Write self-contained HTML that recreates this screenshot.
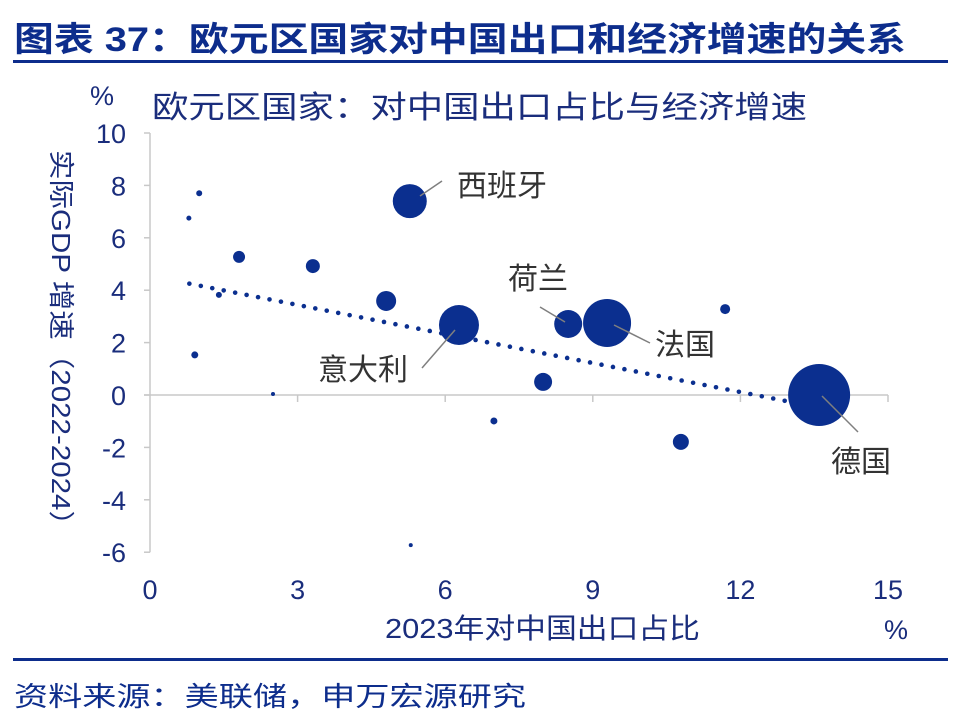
<!DOCTYPE html>
<html><head><meta charset="utf-8"><style>
body{margin:0;background:#fff;width:960px;height:724px;overflow:hidden;font-family:"Liberation Sans","Noto Sans CJK SC",sans-serif}
</style></head><body>
<svg width="960" height="724" style="position:absolute;left:0;top:0" font-family="Liberation Sans, Noto Sans CJK SC, sans-serif">
<text x="14" y="51" font-size="34" font-weight="bold" fill="#0d2d8c" textLength="892" lengthAdjust="spacingAndGlyphs">图表 37：欧元区国家对中国出口和经济增速的关系</text>
<rect x="13" y="60" width="935" height="3" fill="#0d2d8c"/>
<text x="90" y="105" font-size="27" fill="#1a2d7c">%</text>
<text x="152" y="118" font-size="31" fill="#1a2d7c" textLength="655" lengthAdjust="spacingAndGlyphs">欧元区国家：对中国出口占比与经济增速</text>
<text transform="translate(52,150) rotate(90)" font-size="26" fill="#1a2d7c" textLength="390" lengthAdjust="spacingAndGlyphs">实际GDP 增速（2022-2024）</text>
<text x="385" y="638" font-size="28" fill="#1a2d7c" textLength="315" lengthAdjust="spacingAndGlyphs">2023年对中国出口占比</text>
<text x="884" y="639" font-size="27" fill="#1a2d7c">%</text>
<g id="plot"></g>
<rect x="13" y="658" width="935" height="3" fill="#0d2d8c"/>
<text x="14" y="706" font-size="27" fill="#0d2d8c" textLength="512" lengthAdjust="spacingAndGlyphs">资料来源：美联储，申万宏源研究</text>
</svg>
<script>
const xTicks=[0,3,6,9,12,15];
const yTicks=[10,8,6,4,2,0,-2,-4,-6];
const xs=[0.79,1.0,0.91,1.4,1.81,3.31,2.5,4.8,5.28,5.3,6.28,6.99,7.99,8.5,9.29,10.79,11.69,13.6];
const ys=[6.75,7.7,1.53,3.82,5.27,4.92,0.04,3.59,7.4,-5.73,2.67,-0.99,0.5,2.71,2.75,-1.79,3.28,0.0];
const sizes=[2.5,3,3.5,3,6,7,2,10,17,2,20,3.5,9,14,24,8,5,31];
const names=["","","","","","","","","西班牙","","意大利","","","荷兰","法国","","","德国"];
const trendX=[0.8,12.9];
const trendY=[4.25,-0.22];
const X=v=>150+v*49.2, Y=v=>395-v*26.2;
const g=document.getElementById('plot'), NS='http://www.w3.org/2000/svg';
function mk(t,a){const e=document.createElementNS(NS,t);for(const k in a)e.setAttribute(k,a[k]);g.appendChild(e);return e;}
let e=mk('line',{x1:150,y1:Y(10),x2:150,y2:Y(-6),stroke:'#c8c8c8','stroke-width':1.5});


e=mk('line',{x1:144,y1:Y(0),x2:X(15),y2:Y(0),stroke:'#c8c8c8','stroke-width':1.5});


yTicks.forEach(v=>{
 let t=mk('line',{x1:144,y1:Y(v),x2:150,y2:Y(v),stroke:'#c8c8c8','stroke-width':1.5});
 
 
 let l=mk('text',{x:126,y:Y(v)+10,'font-size':27,fill:'#1a2d7c','text-anchor':'end'});l.textContent=v;
 
 
});
xTicks.forEach(v=>{
 if(v>0){let t=mk('line',{x1:X(v),y1:Y(0),x2:X(v),y2:Y(0)+7,stroke:'#c8c8c8','stroke-width':1.5});
 
 }
 let l=mk('text',{x:X(v),y:599,'font-size':27,fill:'#1a2d7c','text-anchor':'middle'});l.textContent=v;
 
 
});
const x0=X(trendX[0]),y0=Y(trendY[0]),x1=X(trendX[1]),y1=Y(trendY[1]);
const L=Math.hypot(x1-x0,y1-y0),n=Math.round(L/11.6);
for(let i=0;i<=n;i++){let d=mk('circle',{cx:x0+(x1-x0)*i/n,cy:y0+(y1-y0)*i/n,r:2.3,fill:'#0b2f8f'});
 
 }
xs.forEach((v,i)=>{let c=mk('circle',{cx:X(v),cy:Y(ys[i]),r:sizes[i],fill:'#0b2f8f'});
 
 });
const labels=[["西班牙",457,196,442,181,420,196],["荷兰",508,289,540,307,565,322],["法国",655,355,614,325,650,343],["意大利",318,380,422,368,455,330],["德国",831,472,822,396,858,432]];
labels.forEach(a=>{
 let ln=mk('line',{x1:a[3],y1:a[4],x2:a[5],y2:a[6],stroke:'#7f7f7f','stroke-width':1.5});
 
 
 let t=mk('text',{x:a[1],y:a[2],'font-size':30,fill:'#333'});t.textContent=a[0];
 
 
});
</script>
</body></html>
